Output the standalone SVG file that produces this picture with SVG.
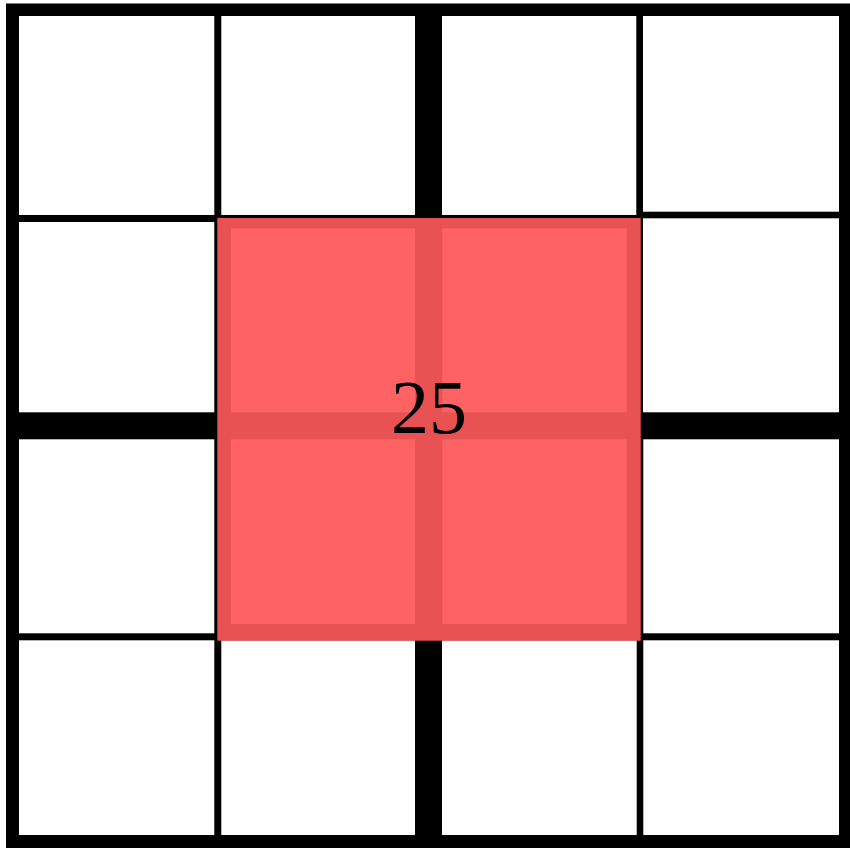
<svg xmlns="http://www.w3.org/2000/svg" width="850" height="848" viewBox="0 0 850 848">
  <style>
    .frame { fill: #000000; }
    .cell { fill: #ffffff; }
    .hl-edge { fill: #E85252; }
    .hl-fill { fill: #FF6262; }
    .label { font-family: "Liberation Serif", "Times New Roman", serif; font-size: 76px; fill: #000000; text-anchor: middle; }
  </style>
  <rect width="850" height="848" fill="#ffffff"/>
  <g id="grid">
    <rect class="frame" x="6" y="3.5" width="844" height="844.5"/>
    <!-- row 1 -->
    <rect id="cell-1-1" class="cell" x="19" y="16" width="195.3" height="199"/>
    <rect id="cell-1-2" class="cell" x="221.3" y="16" width="193.7" height="199"/>
    <rect id="cell-1-3" class="cell" x="442" y="16" width="194.3" height="199"/>
    <rect id="cell-1-4" class="cell" x="643" y="16" width="196" height="195.7"/>
    <!-- row 2 -->
    <rect id="cell-2-1" class="cell" x="19" y="222" width="195.3" height="190.3"/>
    <rect id="cell-2-2" class="cell" x="221.3" y="222" width="193.7" height="190.3"/>
    <rect id="cell-2-3" class="cell" x="442" y="222" width="194.3" height="190.3"/>
    <rect id="cell-2-4" class="cell" x="643" y="218.3" width="196" height="194"/>
    <!-- row 3 -->
    <rect id="cell-3-1" class="cell" x="19" y="439.3" width="195.3" height="194"/>
    <rect id="cell-3-2" class="cell" x="221.3" y="439.3" width="193.7" height="194"/>
    <rect id="cell-3-3" class="cell" x="442" y="439.3" width="194.7" height="194"/>
    <rect id="cell-3-4" class="cell" x="643.3" y="439.3" width="195.7" height="194"/>
    <!-- row 4 -->
    <rect id="cell-4-1" class="cell" x="19" y="640.3" width="195.3" height="194.7"/>
    <rect id="cell-4-2" class="cell" x="221.3" y="640.3" width="193.7" height="194.7"/>
    <rect id="cell-4-3" class="cell" x="442" y="640.3" width="194.7" height="194.7"/>
    <rect id="cell-4-4" class="cell" x="643.3" y="640.3" width="195.7" height="194.7"/>
  </g>
  <g id="highlight">
    <rect class="hl-edge" x="217.3" y="218" width="423.4" height="422.7"/>
    <rect class="hl-fill" x="231" y="228.3" width="184" height="184"/>
    <rect class="hl-fill" x="442.3" y="228.3" width="184.4" height="184"/>
    <rect class="hl-fill" x="231" y="439.3" width="184" height="184.7"/>
    <rect class="hl-fill" x="442.3" y="439.3" width="184.4" height="184.7"/>
  </g>
  <g id="label">
    <text class="label" x="429" y="433">25</text>
  </g>
</svg>
